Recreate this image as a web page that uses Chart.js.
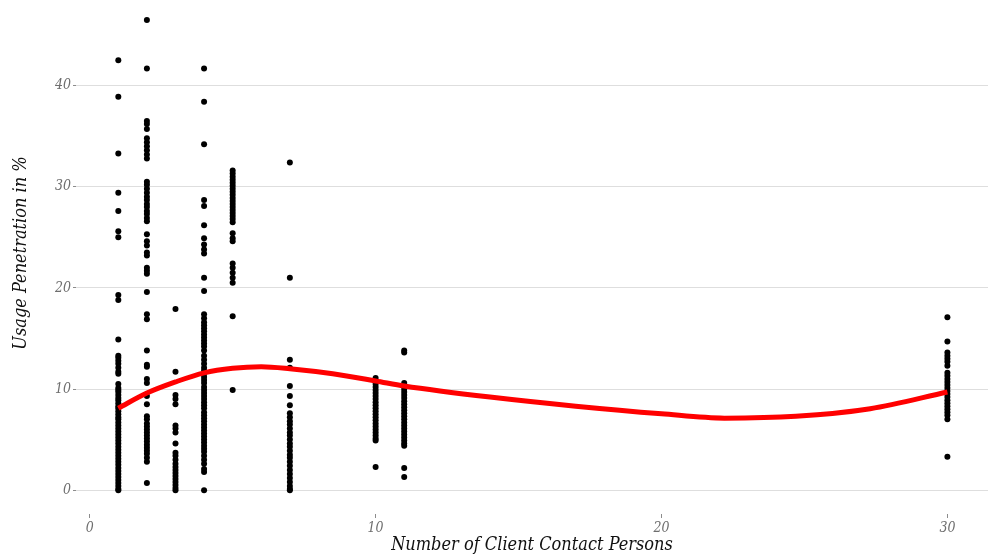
<!DOCTYPE html>
<html>
<head>
<meta charset="utf-8">
<script src="https://cdn.jsdelivr.net/npm/chart.js@4"></script>
<style>
html,body{margin:0;padding:0;background:#fff;}
#wrap{width:992px;height:556px;}
</style>
</head>
<body>
<div id="wrap"><canvas id="c" width="992" height="556"></canvas></div>
<script>
// ---- data ----
const contactCounts = [1, 2, 3, 4, 5, 7, 10, 11, 30];
const penetration1 = [42.5, 38.9, 33.3, 29.4, 27.6, 25.6, 25.0, 19.3, 18.8, 14.9, 13.3, 13.1, 12.8, 12.5, 12.1, 11.7, 11.5, 10.5, 10.1, 9.9, 9.7, 9.4, 9.1, 8.9, 8.6, 8.3, 8.1, 7.8, 7.5, 7.2, 7.0, 6.7, 6.4, 6.1, 5.8, 5.5, 5.2, 4.9, 4.6, 4.3, 4.0, 3.7, 3.4, 3.1, 2.8, 2.5, 2.2, 1.9, 1.6, 1.3, 1.0, 0.7, 0.4, 0.1, 0.0];
const penetration2 = [46.5, 41.7, 36.5, 36.2, 35.7, 34.8, 34.4, 34.0, 33.6, 33.2, 32.8, 30.5, 30.2, 29.8, 29.4, 29.0, 28.7, 28.3, 28.0, 27.6, 27.3, 26.9, 26.6, 25.3, 24.6, 24.2, 23.5, 23.2, 22.0, 21.7, 21.4, 19.6, 17.4, 16.9, 13.8, 12.4, 12.2, 11.0, 10.6, 9.3, 8.5, 7.3, 7.0, 6.6, 6.3, 6.0, 5.7, 5.4, 5.1, 4.8, 4.5, 4.2, 3.9, 3.6, 3.2, 2.8, 0.7];
const penetration3 = [17.9, 11.7, 9.4, 9.0, 8.5, 6.4, 6.1, 5.7, 4.6, 3.7, 3.4, 3.0, 2.6, 2.3, 2.0, 1.7, 1.4, 1.1, 0.8, 0.5, 0.2, 0.0];
const penetration4 = [41.7, 38.4, 34.2, 28.7, 28.1, 26.2, 24.9, 24.3, 23.8, 23.4, 21.0, 19.7, 17.4, 17.0, 16.6, 16.3, 16.0, 15.7, 15.4, 15.1, 14.8, 14.5, 14.2, 13.8, 13.3, 12.9, 12.5, 12.1, 11.8, 11.5, 11.2, 10.9, 10.6, 10.2, 9.9, 9.6, 9.3, 9.0, 8.7, 8.4, 8.1, 7.7, 7.4, 7.1, 6.8, 6.5, 6.2, 5.9, 5.6, 5.3, 5.0, 4.7, 4.4, 4.1, 3.8, 3.4, 3.0, 2.6, 2.1, 1.8, 0.0];
const penetration5 = [31.6, 31.3, 31.0, 30.7, 30.4, 30.1, 29.8, 29.5, 29.2, 28.9, 28.6, 28.3, 28.0, 27.7, 27.4, 27.1, 26.8, 26.5, 25.4, 24.9, 24.6, 22.4, 22.0, 21.5, 21.0, 20.5, 17.2, 9.9];
const penetration7 = [32.4, 21.0, 12.9, 12.1, 10.3, 9.3, 8.4, 7.6, 7.2, 6.8, 6.5, 6.1, 5.7, 5.4, 5.0, 4.6, 4.3, 3.9, 3.5, 3.2, 2.8, 2.4, 2.0, 1.6, 1.2, 0.8, 0.4, 0.1, 0.0];
const penetration10 = [11.1, 10.8, 10.5, 10.2, 9.9, 9.6, 9.3, 9.0, 8.7, 8.4, 8.1, 7.8, 7.5, 7.2, 6.9, 6.6, 6.3, 6.0, 5.7, 5.4, 5.1, 4.9, 2.3];
const penetration11 = [13.8, 13.6, 10.6, 10.3, 10.0, 9.7, 9.4, 9.1, 8.8, 8.5, 8.2, 7.9, 7.6, 7.3, 7.0, 6.7, 6.4, 6.1, 5.8, 5.5, 5.2, 4.9, 4.6, 4.4, 2.2, 1.3];
const penetration30 = [17.1, 14.7, 13.6, 13.3, 13.0, 12.7, 12.3, 11.6, 11.3, 11.0, 10.7, 10.4, 10.1, 9.8, 9.5, 9.2, 8.9, 8.6, 8.3, 8.0, 7.7, 7.4, 7.0, 3.3];
const penetrationByCount = [penetration1, penetration2, penetration3, penetration4, penetration5, penetration7, penetration10, penetration11, penetration30];

// smoothed trend
const trendX = [1, 2, 3, 4, 5, 6, 7, 8.5, 10, 11, 14, 17, 20, 22.2, 24.7, 27.3, 30];
const trendY = [8.1, 9.6, 10.7, 11.6, 12.05, 12.2, 12.0, 11.5, 10.8, 10.3, 9.2, 8.3, 7.55, 7.12, 7.3, 8.05, 9.7];

const xTickValues = [0, 10, 20, 30];
const yTickValues = [0, 10, 20, 30, 40];
const xTitle = 'Number of Client Contact Persons';
const yTitle = 'Usage Penetration in %';

// ---- build datasets ----
const points = [];
contactCounts.forEach((c, i) => penetrationByCount[i].forEach(v => points.push({x: c, y: v})));
const trend = trendX.map((x, i) => ({x: x, y: trendY[i]}));

const FONT = '"DejaVu Serif Condensed", "DejaVu Serif", serif';

// y-axis title drawn as real canvas text, centred like the reference
const yTitlePlugin = {
  id: 'yTitle',
  afterDraw(chart) {
    const ctx = chart.ctx;
    ctx.save();
    ctx.translate(21, 253);
    ctx.rotate(-Math.PI / 2);
    ctx.font = 'italic normal 18px ' + FONT;
    ctx.fillStyle = '#111111';
    ctx.textAlign = 'center';
    ctx.textBaseline = 'middle';
    ctx.fillText(yTitle, 0, 0);
    ctx.restore();
  }
};

new Chart(document.getElementById('c'), {
  type: 'scatter',
  data: {
    datasets: [
      {
        type: 'line',
        data: trend,
        borderColor: '#ff0000',
        borderWidth: 5,
        pointRadius: 0,
        fill: false,
        tension: 0.4,
        cubicInterpolationMode: 'monotone',
        order: 0
      },
      {
        data: points,
        backgroundColor: '#000000',
        borderColor: '#000000',
        borderWidth: 0,
        pointRadius: 3,
        order: 1
      }
    ]
  },
  plugins: [yTitlePlugin],
  options: {
    responsive: false,
    animation: false,
    layout: {padding: {top: 0, right: 0, left: 0, bottom: 0}},
    plugins: {legend: {display: false}, tooltip: {enabled: false}},
    scales: {
      x: {
        type: 'linear',
        min: -0.48,
        max: 31.42,
        afterBuildTicks: s => { s.ticks = xTickValues.map(v => ({value: v})); },
        afterFit: s => { s.height = 42; },
        border: {display: false},
        grid: {drawOnChartArea: false, drawTicks: true, tickLength: 4, tickColor: '#8c8c8c', tickWidth: 1},
        ticks: {
          color: '#6e6e6e',
          font: {family: FONT, size: 14, style: 'italic'},
          padding: 2,
          maxRotation: 0
        },
        title: {
          display: true,
          text: xTitle,
          color: '#111111',
          font: {family: FONT, size: 18, style: 'italic'},
          padding: {top: 0, bottom: 0}
        }
      },
      y: {
        type: 'linear',
        min: -2.36,
        max: 47.44,
        afterBuildTicks: s => { s.ticks = yTickValues.map(v => ({value: v})); },
        afterFit: s => { s.width = 76; },
        border: {display: false},
        grid: {color: '#dedede', lineWidth: 1, drawTicks: true, tickLength: 3, tickColor: '#8c8c8c'},
        ticks: {
          color: '#6e6e6e',
          font: {family: FONT, size: 14, style: 'italic'},
          padding: 2
        },
        title: {display: false}
      }
    }
  }
});
</script>
</body>
</html>
